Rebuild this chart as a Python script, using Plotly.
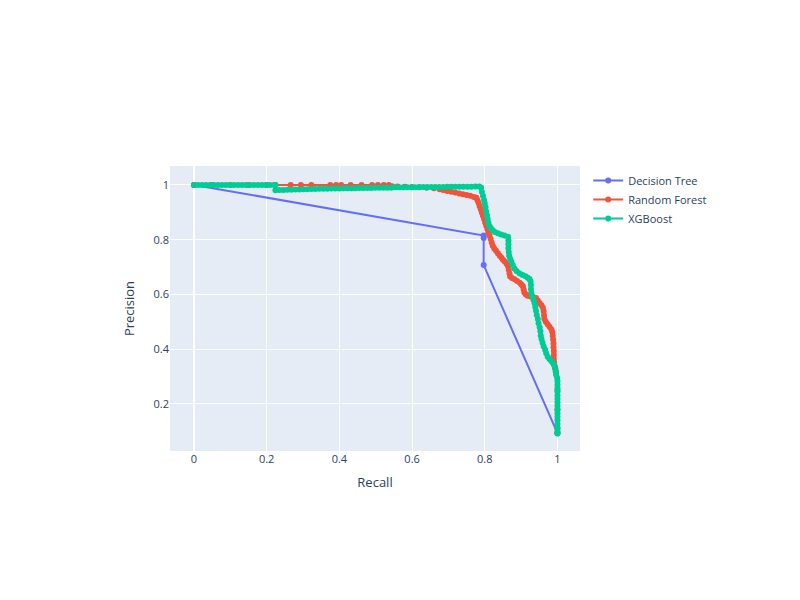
import plotly.graph_objects as go

# precision / recall pairs
dt_recall = [1.0, 0.797, 0.797, 0.797, 0.0]
dt_precision = [0.093, 0.707, 0.806, 0.815, 1.0]

rf_recall = [
    0.0, 0.05, 0.10, 0.15, 0.20, 0.224,
    0.266, 0.294, 0.323, 0.375, 0.391, 0.405, 0.431, 0.461, 0.490, 0.506, 0.522, 0.536,
    0.545, 0.56, 0.58, 0.60, 0.62, 0.64, 0.66, 0.676, 0.686, 0.697, 0.708, 0.719, 0.730,
    0.740, 0.750, 0.760, 0.770, 0.777, 0.780, 0.783, 0.786, 0.789, 0.792, 0.795, 0.798,
    0.801, 0.804, 0.807, 0.810, 0.813, 0.816, 0.819, 0.822, 0.826, 0.831, 0.836, 0.841,
    0.846, 0.850, 0.855, 0.860, 0.864, 0.866, 0.868, 0.870, 0.875, 0.882, 0.889, 0.896,
    0.901, 0.905, 0.907, 0.909, 0.913, 0.918, 0.926, 0.934, 0.941, 0.946, 0.951, 0.956,
    0.960, 0.962, 0.963, 0.964, 0.968, 0.973, 0.978, 0.983, 0.986, 0.987, 0.988, 0.989,
    0.989, 0.990, 0.990, 0.990, 0.991, 0.992, 0.994, 0.996, 1.0, 1.0, 1.0, 1.0,
]
rf_precision = [
    1.0, 1.0, 1.0, 1.0, 1.0, 1.0,
    1.0, 1.0, 1.0, 1.0, 1.0, 1.0, 1.0, 1.0, 1.0, 1.0, 1.0, 1.0,
    0.995, 0.994, 0.993, 0.992, 0.991, 0.990, 0.988, 0.984, 0.981, 0.978, 0.975, 0.972, 0.969,
    0.966, 0.963, 0.960, 0.956, 0.953, 0.944, 0.934, 0.922, 0.911, 0.899, 0.887, 0.875,
    0.863, 0.851, 0.839, 0.827, 0.815, 0.803, 0.790, 0.778, 0.768, 0.759, 0.750, 0.741,
    0.734, 0.727, 0.720, 0.712, 0.703, 0.690, 0.676, 0.665, 0.660, 0.655, 0.649, 0.643,
    0.636, 0.630, 0.618, 0.607, 0.600, 0.595, 0.592, 0.590, 0.587, 0.578, 0.569, 0.560,
    0.551, 0.538, 0.524, 0.510, 0.500, 0.491, 0.482, 0.473, 0.462, 0.449, 0.435, 0.421,
    0.407, 0.393, 0.379, 0.365, 0.352, 0.340, 0.330, 0.318, 0.25, 0.18, 0.11, 0.095,
]

xgb_recall = [
    0.0, 0.011, 0.022, 0.033, 0.044, 0.055, 0.066, 0.077, 0.088, 0.099, 0.11, 0.121,
    0.132, 0.143, 0.154, 0.165, 0.176, 0.187, 0.198, 0.209, 0.22, 0.224,
    0.224, 0.235, 0.246, 0.257, 0.268, 0.279, 0.29, 0.301, 0.312, 0.323, 0.334, 0.345,
    0.356, 0.367, 0.378, 0.389, 0.4, 0.411, 0.422, 0.433, 0.444, 0.455, 0.466, 0.477,
    0.488, 0.499, 0.51, 0.521, 0.532, 0.543, 0.554, 0.565, 0.576, 0.587, 0.598, 0.609,
    0.62, 0.631, 0.642, 0.653, 0.664, 0.675, 0.686, 0.697, 0.708, 0.719, 0.73, 0.741,
    0.752, 0.763, 0.774, 0.785, 0.79,
    0.792, 0.795, 0.798, 0.800, 0.802, 0.804, 0.806, 0.808, 0.810, 0.813, 0.817, 0.822,
    0.828, 0.836, 0.845, 0.854, 0.864, 0.865, 0.865, 0.865, 0.866, 0.867, 0.870, 0.873,
    0.877, 0.882, 0.888, 0.896, 0.904, 0.912, 0.918, 0.923, 0.926, 0.927, 0.927, 0.928,
    0.931, 0.934, 0.937, 0.939, 0.941, 0.943, 0.946, 0.948, 0.951, 0.953, 0.954, 0.956,
    0.959, 0.962, 0.966, 0.969, 0.973, 0.978, 0.983, 0.987, 0.991, 0.993, 0.995, 0.996,
    0.999, 1.0, 1.0, 1.0, 1.0, 1.0, 1.0, 1.0, 1.0, 1.0, 1.0, 1.0, 1.0, 1.0, 1.0, 1.0,
    1.0,
]
xgb_precision = [
    1.0, 1.0, 1.0, 1.0, 1.0, 1.0, 1.0, 1.0, 1.0, 1.0, 1.0, 1.0,
    1.0, 1.0, 1.0, 1.0, 1.0, 1.0, 1.0, 1.0, 1.0, 1.0,
    0.980, 0.981, 0.981, 0.982, 0.982, 0.983, 0.983, 0.984, 0.984, 0.985, 0.985, 0.986,
    0.986, 0.986, 0.987, 0.987, 0.987, 0.988, 0.988, 0.988, 0.988, 0.989, 0.989, 0.989,
    0.989, 0.990, 0.990, 0.990, 0.990, 0.990, 0.991, 0.991, 0.991, 0.991, 0.991, 0.991,
    0.992, 0.992, 0.992, 0.992, 0.992, 0.992, 0.992, 0.993, 0.993, 0.993, 0.993, 0.993,
    0.993, 0.993, 0.994, 0.994, 0.990,
    0.975, 0.960, 0.945, 0.932, 0.918, 0.903, 0.889, 0.875, 0.862, 0.850, 0.842, 0.834,
    0.828, 0.823, 0.819, 0.815, 0.811, 0.797, 0.783, 0.769, 0.755, 0.741, 0.730, 0.720,
    0.707, 0.694, 0.685, 0.676, 0.671, 0.666, 0.661, 0.656, 0.648, 0.634, 0.620, 0.606,
    0.593, 0.580, 0.568, 0.554, 0.540, 0.525, 0.510, 0.495, 0.480, 0.465, 0.450, 0.437,
    0.423, 0.410, 0.398, 0.385, 0.372, 0.364, 0.357, 0.350, 0.341, 0.331, 0.319, 0.307,
    0.296, 0.283, 0.270, 0.257, 0.244, 0.231, 0.218, 0.205, 0.192, 0.179, 0.166, 0.153,
    0.140, 0.127, 0.114, 0.101, 0.092,
]

fig = go.Figure()
fig.add_trace(go.Scatter(x=dt_recall, y=dt_precision, mode="lines+markers", name="Decision Tree"))
fig.add_trace(go.Scatter(x=rf_recall, y=rf_precision, mode="lines+markers", name="Random Forest"))
fig.add_trace(go.Scatter(x=xgb_recall, y=xgb_precision, mode="lines+markers", name="XGBoost"))

fig.update_layout(
    width=800, height=600,
    font=dict(size=11),
    margin=dict(l=162, r=228, t=158, b=157),
    xaxis=dict(title=dict(text="Recall", standoff=12), range=[-0.066, 1.062]),
    yaxis=dict(title="Precision", range=[0.028, 1.069]),
)
fig.write_html("out.html")
